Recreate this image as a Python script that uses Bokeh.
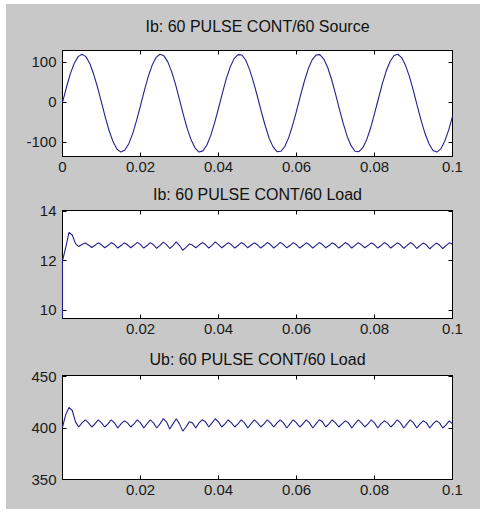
import numpy as np
from bokeh.plotting import figure
from bokeh.models import LinearAxis, FixedTicker, Range1d
from bokeh.layouts import column
from bokeh.embed import file_html
from bokeh.resources import INLINE

# ---------------- data ----------------
titles = ["Ib: 60 PULSE CONT/60 Source", "Ib: 60 PULSE CONT/60 Load", "Ub: 60 PULSE CONT/60 Load"]

# source current, sampled every 1 ms
t_src = np.arange(101) * 0.001
ib_src = [0, 37, 71, 97, 114, 120, 114, 97, 70, 37,
          0, -38, -72, -99, -117, -124, -119, -103, -78, -45,
          -8, 30, 65, 93, 112, 120, 116, 101, 76, 44,
          7, -31, -66, -94, -114, -124, -121, -107, -83, -51,
          -15, 23, 59, 88, 109, 119, 118, 105, 81, 50,
          14, -24, -59, -90, -111, -123, -122, -110, -88, -57,
          -22, 16, 52, 83, 106, 118, 119, 108, 87, 57,
          21, -17, -53, -85, -108, -122, -123, -113, -93, -64,
          -28, 9, 46, 78, 102, 117, 120, 111, 91, 63,
          28, -10, -47, -79, -104, -120, -124, -116, -97, -70,
          -35]

# load current and voltage, sampled every 1/1200 s
t_load = np.arange(121) / 1200.0
ib_start = 9.67   # trace enters from the bottom edge of the axes at t = 0
ib_load = [12.00, 12.55, 13.15, 13.05, 12.70, 12.58, 12.66, 12.72, 12.64, 12.54,
           12.63, 12.73, 12.65, 12.53, 12.62, 12.74, 12.66, 12.52, 12.62, 12.73,
           12.65, 12.53, 12.63, 12.75, 12.66, 12.52, 12.62, 12.74, 12.65, 12.51,
           12.63, 12.76, 12.66, 12.50, 12.62, 12.77, 12.62, 12.43, 12.55, 12.68,
           12.64, 12.53, 12.64, 12.74, 12.66, 12.52, 12.63, 12.77, 12.66, 12.53,
           12.63, 12.74, 12.65, 12.52, 12.62, 12.74, 12.66, 12.53, 12.63, 12.73,
           12.65, 12.52, 12.62, 12.74, 12.66, 12.52, 12.63, 12.75, 12.66, 12.53,
           12.62, 12.74, 12.65, 12.52, 12.62, 12.73, 12.65, 12.52, 12.63, 12.74,
           12.66, 12.53, 12.62, 12.73, 12.65, 12.52, 12.62, 12.74, 12.66, 12.52,
           12.63, 12.74, 12.65, 12.53, 12.62, 12.73, 12.65, 12.52, 12.62, 12.74,
           12.66, 12.52, 12.62, 12.73, 12.65, 12.51, 12.62, 12.74, 12.66, 12.50,
           12.62, 12.73, 12.64, 12.49, 12.61, 12.72, 12.64, 12.50, 12.62, 12.73,
           12.68]
ub_load = [401, 413, 420, 417, 406, 401, 405, 408, 405, 401,
           404, 408, 405, 401, 404, 408, 405, 400, 404, 407,
           405, 401, 404, 408, 405, 400, 404, 408, 405, 400,
           404, 409, 406, 399, 404, 409, 404, 397, 401, 406,
           405, 400, 405, 408, 406, 401, 405, 409, 406, 401,
           404, 408, 405, 401, 404, 408, 405, 400, 404, 408,
           405, 401, 404, 408, 405, 401, 405, 408, 405, 400,
           404, 408, 405, 401, 404, 408, 405, 400, 404, 408,
           406, 401, 404, 408, 405, 401, 404, 407, 405, 400,
           404, 408, 405, 401, 404, 408, 405, 400, 404, 407,
           405, 401, 404, 408, 405, 400, 404, 408, 405, 400,
           404, 407, 405, 400, 404, 407, 405, 400, 403, 407,
           404]

x_ticks_src = [0, 0.02, 0.04, 0.06, 0.08, 0.1]
x_labels_src = ["0", "0.02", "0.04", "0.06", "0.08", "0.1"]
x_ticks_load = [0.02, 0.04, 0.06, 0.08, 0.1]
x_labels_load = ["0.02", "0.04", "0.06", "0.08", "0.1"]
y_ticks = [[-100, 0, 100], [10, 12, 14], [350, 400, 450]]
y_labels = [["-100", "0", "100"], ["10", "12", "14"], ["350", "400", "450"]]
y_limits = [(-135, 129.3), (9.665, 14.04), (350, 451)]

# ---------------- styling ----------------
GRAY = "#c8c8c8"
LINE = "#22228c"
FONT = "Liberation Sans"
W = 474
LEFT = 56
FRAME_W = 390


def make_fig(height, top, frame_h, ylim, yt, yl, xt, xl, title, title_standoff):
    p = figure(width=W, height=height, output_backend="svg", toolbar_location=None,
               x_range=Range1d(0, 0.1), y_range=Range1d(*ylim),
               min_border_left=LEFT, min_border_right=W - LEFT - FRAME_W,
               min_border_top=top, min_border_bottom=height - top - frame_h)
    p.border_fill_color = GRAY
    p.background_fill_color = "white"
    p.outline_line_color = "black"
    p.outline_line_width = 1
    p.xgrid.visible = False
    p.ygrid.visible = False

    for ax, ticks, labels in ((p.xaxis[0], xt, xl), (p.yaxis[0], yt, yl)):
        ax.ticker = FixedTicker(ticks=ticks)
        ax.major_label_overrides = {t: s for t, s in zip(ticks, labels)}
        ax.major_tick_in = 4
        ax.major_tick_out = 0
        ax.minor_tick_line_color = None
        ax.axis_line_color = "black"
        ax.major_tick_line_color = "black"
        ax.major_label_text_font = FONT
        ax.major_label_text_font_size = "15px"
        ax.major_label_text_color = "#1a1a1a"
    p.xaxis[0].major_label_standoff = 5
    p.yaxis[0].major_label_standoff = 6

    right = LinearAxis(ticker=FixedTicker(ticks=yt), major_tick_in=4, major_tick_out=0,
                       minor_tick_line_color=None, axis_line_color="black",
                       major_label_text_color=None, major_label_text_font_size="1px",
                       major_label_standoff=0)
    p.add_layout(right, "right")
    top_ax = LinearAxis(ticker=FixedTicker(ticks=xt), major_tick_in=4, major_tick_out=0,
                        minor_tick_line_color=None, axis_line_color="black",
                        major_label_text_color=None, major_label_text_font_size="1px",
                        major_label_standoff=0,
                        axis_label=title, axis_label_text_font=FONT,
                        axis_label_text_font_size="16px", axis_label_text_font_style="normal",
                        axis_label_text_color="#111111", axis_label_standoff=title_standoff)
    p.add_layout(top_ax, "above")
    return p


p1 = make_fig(174, 46, 106, y_limits[0], y_ticks[0], y_labels[0], x_ticks_src, x_labels_src, titles[0], 16)
p1.line(t_src, ib_src, line_color=LINE, line_width=1.1, level="overlay")

p2 = make_fig(165, 32, 108, y_limits[1], y_ticks[1], y_labels[1], x_ticks_load, x_labels_load, titles[1], 8)
p2.line(np.concatenate([[0.0], t_load]), [ib_start] + ib_load, line_color=LINE, line_width=1.1, level="overlay")

p3 = make_fig(166, 32, 104, y_limits[2], y_ticks[2], y_labels[2], x_ticks_load, x_labels_load, titles[2], 8)
p3.line(t_load, ub_load, line_color=LINE, line_width=1.1, level="overlay")

layout = column(p1, p2, p3, spacing=0, margin=(4, 0, 0, 6), styles={"background-color": GRAY})
open("out.html", "w").write(file_html(layout, INLINE))
